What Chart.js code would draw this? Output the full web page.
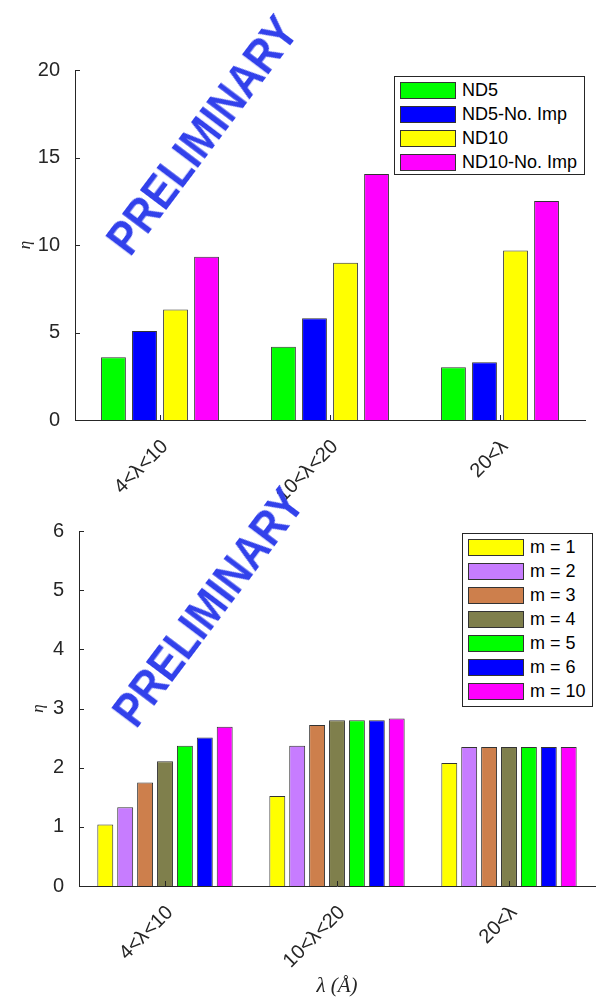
<!DOCTYPE html>
<html><head><meta charset="utf-8">
<script src="https://cdn.jsdelivr.net/npm/chart.js@4.4.0/dist/chart.umd.min.js"></script>
<style>
body{margin:0;background:#fff;width:596px;height:999px;overflow:hidden;position:relative;font-family:"Liberation Sans",Arial,sans-serif}
canvas{position:absolute;left:0}
#c1{top:0}
#c2{top:500px}
.legend{position:absolute;border:1px solid #262626;background:#fff;box-sizing:border-box}
.row{position:absolute;left:5px;height:17px;display:flex;align-items:center}
.sw{width:56px;height:17px;box-sizing:border-box;border:1px solid #333;flex:none}
.lb{margin-left:6px;font-size:18px;color:#000;white-space:nowrap;line-height:17px}
.wm{position:absolute;font:bold 48px "Liberation Sans",Arial,sans-serif;color:rgb(50,65,235);white-space:nowrap;transform:translate(-50%,-50%) rotate(-53deg) scale(0.86,1);pointer-events:none}
</style></head>
<body>
<canvas id="c1" width="596" height="500"></canvas>
<canvas id="c2" width="596" height="499"></canvas>
<div id="lg1" class="legend" style="left:394px;top:76px;width:191px;height:99px"></div>
<div id="lg2" class="legend" style="left:462px;top:533px;width:131px;height:174px"></div>
<div class="wm" style="left:202px;top:135px">PRELIMINARY</div>
<div class="wm" style="left:208px;top:607px">PRELIMINARY</div>
<script>
// ---- data ----
const categories = ['4<λ<10', '10<λ<20', '20<λ'];

const topNames = ['ND5', 'ND5-No. Imp', 'ND10', 'ND10-No. Imp'];
const topColors = ['#00ff00', '#0000ff', '#ffff00', '#ff00ff'];
const nd5 = [3.58, 4.19, 3.01];
const nd5NoImp = [5.08, 5.81, 3.30];
const nd10 = [6.32, 8.99, 9.68];
const nd10NoImp = [9.33, 14.06, 12.51];
const topTicks = [0, 5, 10, 15, 20];

const botNames = ['m = 1', 'm = 2', 'm = 3', 'm = 4', 'm = 5', 'm = 6', 'm = 10'];
const botColors = ['#ffff00', '#c77cff', '#cd7f4c', '#7f7f4c', '#00ff00', '#0000ff', '#ff00ff'];
const m1 = [1.04, 1.52, 2.08];
const m2 = [1.33, 2.37, 2.35];
const m3 = [1.75, 2.72, 2.35];
const m4 = [2.11, 2.80, 2.35];
const m5 = [2.37, 2.80, 2.35];
const m6 = [2.51, 2.80, 2.35];
const m10 = [2.69, 2.83, 2.35];
const botTicks = [0, 1, 2, 3, 4, 5, 6];

const yTitle = 'η';
const xTitle = 'λ (Å)';

// ---- helpers ----
const AX = '#262626';
const innerTicks = {
  id: 'innerTicks',
  afterDatasetsDraw(chart) {
    const {ctx, scales: {x, y}, chartArea: a} = chart;
    ctx.save();
    ctx.strokeStyle = AX; ctx.lineWidth = 1;
    ctx.beginPath();
    y.ticks.forEach((t, i) => {
      const py = Math.round(y.getPixelForTick(i)) + 0.5;
      ctx.moveTo(a.left, py); ctx.lineTo(a.left + 5, py);
    });
    x.ticks.forEach((t, i) => {
      const px = Math.round(x.getPixelForTick(i)) + 0.5;
      ctx.moveTo(px, a.bottom); ctx.lineTo(px, a.bottom - 5);
    });
    ctx.stroke();
    ctx.restore();
  }
};

function makeChart(id, names, colors, series, ticks, opts) {
  const datasets = series.map((d, i) => ({
    label: names[i], data: d, backgroundColor: colors[i],
    borderColor: '#333333', borderWidth: 1,
    categoryPercentage: opts.catPct, barPercentage: 0.8
  }));
  return new Chart(document.getElementById(id), {
    type: 'bar',
    data: {labels: categories, datasets},
    plugins: [innerTicks],
    options: {
      responsive: false, animation: false, devicePixelRatio: 1,
      layout: {padding: {left: 0, right: opts.padRight, top: opts.padTop, bottom: 0}},
      plugins: {legend: {display: false}, tooltip: {enabled: false}},
      scales: {
        x: {
          grid: {display: false}, border: {display: true, color: AX, width: 1},
          ticks: {color: AX, font: {family: '"Liberation Sans", Arial', size: 20}, minRotation: 45, maxRotation: 45, padding: opts.xPad, labelOffset: 5},
          title: opts.xTitle ? {display: true, text: opts.xTitle, color: AX, font: {family: '"Liberation Serif", serif', size: 21, style: 'italic'}, padding: {top: 0, bottom: opts.xTitlePad}} : {display: false},
          afterFit(s) { s.height = opts.xHeight; }
        },
        y: {
          min: ticks[0], max: ticks[ticks.length - 1],
          grid: {display: false}, border: {display: true, color: AX, width: 1},
          afterBuildTicks(s) { s.ticks = ticks.map(v => ({value: v})); },
          ticks: {color: AX, font: {family: '"Liberation Sans", Arial', size: 20}, padding: 7},
          title: {display: true, text: yTitle, color: AX, font: {family: '"Liberation Serif", serif', size: 17, style: 'italic'}, padding: {top: opts.yTitlePad, bottom: 0}},
          afterFit(s) { s.width = opts.yWidth; }
        }
      }
    }
  });
}

makeChart('c1', topNames, topColors, [nd5, nd5NoImp, nd10, nd10NoImp], topTicks,
  {catPct: 0.73, padRight: 11, padTop: 70, xHeight: 80, yWidth: 75, xPad: 7, yTitlePad: 15});
makeChart('c2', botNames, botColors, [m1, m2, m3, m4, m5, m6, m10], botTicks,
  {catPct: 0.81, padRight: 1, padTop: 31, xHeight: 113, yWidth: 79, xPad: 7, yTitlePad: 28, xTitle: xTitle, xTitlePad: 0});

function buildLegend(id, names, colors) {
  const el = document.getElementById(id);
  names.forEach((n, i) => {
    const r = document.createElement('div');
    r.className = 'row'; r.style.top = (5 + i * 24) + 'px';
    const sw = document.createElement('div'); sw.className = 'sw'; sw.style.background = colors[i];
    const lb = document.createElement('span'); lb.className = 'lb'; lb.textContent = n;
    r.appendChild(sw); r.appendChild(lb); el.appendChild(r);
  });
}
buildLegend('lg1', topNames, topColors);
buildLegend('lg2', botNames, botColors);
</script>
</body></html>
